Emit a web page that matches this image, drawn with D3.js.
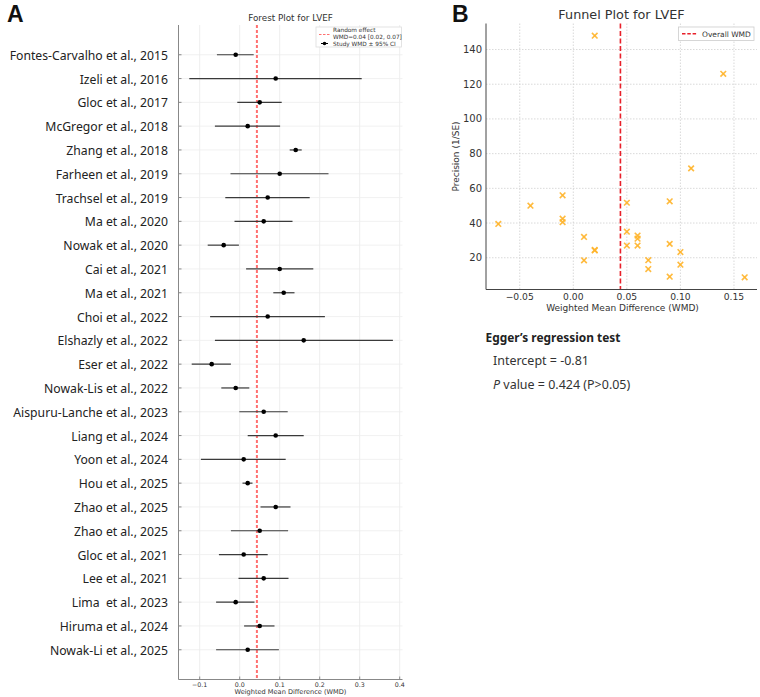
<!DOCTYPE html>
<html><head><meta charset="utf-8">
<script src="https://cdn.jsdelivr.net/npm/d3@7"></script>
<style>
body{margin:0;background:#fff;}
svg{display:block;}
</style></head>
<body>
<svg id="chart" width="760" height="697"></svg>
<script>
// ---------- DATA ----------
const studies = ["Fontes-Carvalho et al., 2015","Izeli et al., 2016","Gloc et al., 2017","McGregor et al., 2018","Zhang et al., 2018","Farheen et al., 2019","Trachsel et al., 2019","Ma et al., 2020","Nowak et al., 2020","Cai et al., 2021","Ma et al., 2021","Choi et al., 2022","Elshazly et al., 2022","Eser et al., 2022","Nowak-Lis et al., 2022","Aispuru-Lanche et al., 2023","Liang et al., 2024","Yoon et al., 2024","Hou et al., 2025","Zhao et al., 2025","Zhao et al., 2025","Gloc et al., 2021","Lee et al., 2021","Lima  et al., 2023","Hiruma et al., 2024","Nowak-Li et al., 2025"];
const wmd    = [-0.01, 0.09, 0.05, 0.02, 0.14, 0.10, 0.07, 0.06, -0.04, 0.10, 0.11, 0.07, 0.16, -0.07, -0.01, 0.06, 0.09, 0.01, 0.02, 0.09, 0.05, 0.01, 0.06, -0.01, 0.05, 0.02];
const ciLow  = [-0.057, -0.126, -0.006, -0.062, 0.125, -0.023, -0.036, -0.013, -0.080, 0.016, 0.084, -0.074, -0.062, -0.120, -0.046, -0.001, 0.020, -0.097, 0.007, 0.052, -0.022, -0.052, -0.003, -0.059, 0.011, -0.059];
const ciHigh = [0.035, 0.305, 0.105, 0.101, 0.155, 0.222, 0.175, 0.132, -0.002, 0.184, 0.137, 0.213, 0.383, -0.022, 0.024, 0.120, 0.160, 0.115, 0.032, 0.127, 0.121, 0.070, 0.122, 0.037, 0.087, 0.098];
const precision = [42.5, 9.1, 35, 24.5, 126, 16, 18.6, 27, 50, 23.3, 71.5, 13.5, 8.7, 39.5, 56, 32.8, 28, 18.5, 148, 52.5, 27, 32, 31, 40.5, 51.7, 24.2];
const pooledWMD = 0.043;
const pooledLabel = "WMD=0.04 [0.02, 0.07]";
const overallWMD = 0.044;
const forestTicks = [-0.1, 0.0, 0.1, 0.2, 0.3, 0.4];
const funnelXTicks = [-0.05, 0.00, 0.05, 0.10, 0.15];
const funnelYTicks = [20, 40, 60, 80, 100, 120, 140];
const eggerIntercept = "-0.81";
const eggerP = "0.424 (P>0.05)";

// ---------- SETUP ----------
const svg = d3.select("#chart");
const sans = "'Noto Sans','Open Sans',sans-serif";
const dv = "'DejaVu Sans',sans-serif";
function fitWidth(sel, target) {
  const w = sel.node().getComputedTextLength();
  const fs = parseFloat(sel.attr("font-size"));
  return fs * target / w;
}

// ---------- FOREST PLOT ----------
const fL = 178.5, fR = 402.5, fT = 25, fB = 679.5;
const fx = d3.scaleLinear().domain([-0.153, 0.407]).range([fL, fR]);
const fy = d3.scaleLinear().domain([-1.25, studies.length - 1 + 1.25]).range([fT, fB]);
const fg = svg.append("g");

fg.selectAll(".vg").data(forestTicks).join("line")
  .attr("x1", d => fx(d)).attr("x2", d => fx(d)).attr("y1", fT).attr("y2", fB)
  .attr("stroke", "#e8e8e8").attr("stroke-width", 0.8);
fg.selectAll(".hg").data(studies).join("line")
  .attr("x1", fL).attr("x2", fR).attr("y1", (d,i) => fy(i)).attr("y2", (d,i) => fy(i))
  .attr("stroke", "#eeeeee").attr("stroke-width", 0.8);

fg.append("line").attr("x1", fx(pooledWMD)).attr("x2", fx(pooledWMD)).attr("y1", fT).attr("y2", fB)
  .attr("stroke", "#ff7070").attr("stroke-width", 2).attr("stroke-dasharray", "3,2");

fg.selectAll(".eb").data(studies).join("line")
  .attr("x1", (d,i) => fx(ciLow[i])).attr("x2", (d,i) => fx(ciHigh[i]))
  .attr("y1", (d,i) => fy(i)).attr("y2", (d,i) => fy(i))
  .attr("stroke", "#3a3a3a").attr("stroke-width", 1.2);
fg.selectAll(".pt").data(studies).join("circle")
  .attr("cx", (d,i) => fx(wmd[i])).attr("cy", (d,i) => fy(i)).attr("r", 2.3)
  .attr("fill", "#000");

fg.append("line").attr("x1", fL).attr("x2", fL).attr("y1", fT).attr("y2", fB).attr("stroke", "#888").attr("stroke-width", 1);
fg.append("line").attr("x1", fL).attr("x2", fR).attr("y1", fB).attr("y2", fB).attr("stroke", "#888").attr("stroke-width", 1);
fg.selectAll(".yt").data(studies).join("line")
  .attr("x1", fL).attr("x2", fL + 3).attr("y1", (d,i) => fy(i)).attr("y2", (d,i) => fy(i))
  .attr("stroke", "#888");
fg.selectAll(".xt").data(forestTicks).join("line")
  .attr("x1", d => fx(d)).attr("x2", d => fx(d)).attr("y1", fB).attr("y2", fB - 3).attr("stroke", "#888");
fg.selectAll(".xtl").data(forestTicks).join("text")
  .attr("x", d => fx(d)).attr("y", fB + 7).attr("text-anchor", "middle")
  .attr("font-family", dv).attr("font-size", 6.3).attr("fill", "#333")
  .text(d => d === 0 ? "0.0" : (d < 0 ? "\u2212" + Math.abs(d).toFixed(1) : d.toFixed(1)));
fg.append("text").attr("x", (fL + fR) / 2).attr("y", fB + 14.5).attr("text-anchor", "middle")
  .attr("font-family", dv).attr("font-size", 6.6).attr("fill", "#333")
  .text("Weighted Mean Difference (WMD)");

// study labels (fit the longest label's width seen in the figure)
const labs = fg.selectAll(".lab").data(studies).join("text")
  .attr("x", 168).attr("y", (d,i) => fy(i) + 5).attr("text-anchor", "end")
  .attr("font-family", sans).attr("font-size", 14).attr("fill", "#222")
  .style("white-space", "pre")
  .text(d => d);
const labFs = fitWidth(labs.filter((d,i) => i === 0), 158.5);
labs.attr("font-size", labFs);

fg.append("text").attr("x", (fL + fR) / 2).attr("y", 20.5).attr("text-anchor", "middle")
  .attr("font-family", dv).attr("font-size", 8.8).attr("fill", "#333").text("Forest Plot for LVEF");

const lg = fg.append("g");
lg.append("rect").attr("x", 316).attr("y", 27).attr("width", 85.5).attr("height", 20)
  .attr("fill", "#fff").attr("stroke", "#ddd").attr("stroke-width", 0.8);
lg.append("line").attr("x1", 319).attr("x2", 330).attr("y1", 34.5).attr("y2", 34.5)
  .attr("stroke", "#ff7070").attr("stroke-width", 1.2).attr("stroke-dasharray", "2.5,1.5");
lg.append("text").attr("x", 333).attr("y", 32).attr("font-family", dv).attr("font-size", 5.8).attr("fill", "#333").text("Random effect");
lg.append("text").attr("x", 333).attr("y", 38.5).attr("font-family", dv).attr("font-size", 5.8).attr("fill", "#333").text(pooledLabel);
lg.append("circle").attr("cx", 324.5).attr("cy", 43.5).attr("r", 1.8).attr("fill", "#000");
lg.append("line").attr("x1", 321).attr("x2", 328).attr("y1", 43.5).attr("y2", 43.5).attr("stroke", "#000").attr("stroke-width", 1);
lg.append("text").attr("x", 333).attr("y", 45.5).attr("font-family", dv).attr("font-size", 5.8).attr("fill", "#333").text("Study WMD \u00b1 95% CI");

svg.append("text").attr("x", 7).attr("y", 22).attr("font-family", "'Liberation Sans',Arial,sans-serif")
  .attr("font-weight", "bold").attr("font-size", 23).attr("fill", "#111").text("A");

// ---------- FUNNEL PLOT ----------
const pL = 486, pR = 757, pT = 23.5, pB = 289.5;
const px = d3.scaleLinear().domain([-0.0815, 0.1715]).range([pL, pR]);
const py = d3.scaleLinear().domain([1.7, 155]).range([pB, pT]);
const pg = svg.append("g");

pg.selectAll(".pvg").data(funnelXTicks).join("line")
  .attr("x1", d => px(d)).attr("x2", d => px(d)).attr("y1", pT).attr("y2", pB)
  .attr("stroke", "#cfcfcf").attr("stroke-width", 0.8).attr("stroke-dasharray", "1.5,1.5");
pg.selectAll(".phg").data(funnelYTicks).join("line")
  .attr("x1", pL).attr("x2", pR).attr("y1", d => py(d)).attr("y2", d => py(d))
  .attr("stroke", "#cfcfcf").attr("stroke-width", 0.8).attr("stroke-dasharray", "1.5,1.5");

pg.append("line").attr("x1", px(overallWMD)).attr("x2", px(overallWMD)).attr("y1", pT).attr("y2", pB)
  .attr("stroke", "#e8202a").attr("stroke-width", 1.6).attr("stroke-dasharray", "5,2.5");

const ms = 2.8;
const mk = pg.selectAll(".mk").data(wmd).join("g")
  .attr("transform", (d,i) => `translate(${px(d)},${py(precision[i])})`);
mk.append("line").attr("x1", -ms).attr("y1", -ms).attr("x2", ms).attr("y2", ms);
mk.append("line").attr("x1", -ms).attr("y1", ms).attr("x2", ms).attr("y2", -ms);
mk.selectAll("line").attr("stroke", "#ffb42a").attr("stroke-width", 1.6).attr("stroke-opacity", 0.9);

pg.append("line").attr("x1", pL).attr("x2", pL).attr("y1", pT).attr("y2", pB).attr("stroke", "#444").attr("stroke-width", 1);
pg.append("line").attr("x1", pL).attr("x2", pR).attr("y1", pB).attr("y2", pB).attr("stroke", "#444").attr("stroke-width", 1);

pg.selectAll(".pxt").data(funnelXTicks).join("text")
  .attr("x", d => px(d)).attr("y", pB + 10.5).attr("text-anchor", "middle")
  .attr("font-family", dv).attr("font-size", 9.2).attr("fill", "#333")
  .text(d => (d < 0 ? "\u2212" : "") + Math.abs(d).toFixed(2));
pg.selectAll(".pyt").data(funnelYTicks).join("text")
  .attr("x", pL - 4).attr("y", d => py(d) + 3.5).attr("text-anchor", "end")
  .attr("font-family", dv).attr("font-size", 10).attr("fill", "#333").text(d => d);
pg.append("text").attr("x", (pL + pR) / 2 + 1).attr("y", pB + 21).attr("text-anchor", "middle")
  .attr("font-family", dv).attr("font-size", 9).attr("fill", "#333").text("Weighted Mean Difference (WMD)");
pg.append("text").attr("transform", `translate(459,${(pT + pB) / 2}) rotate(-90)`).attr("text-anchor", "middle")
  .attr("font-family", dv).attr("font-size", 9).attr("fill", "#333").text("Precision (1/SE)");
pg.append("text").attr("x", (pL + pR) / 2).attr("y", 18.5).attr("text-anchor", "middle")
  .attr("font-family", dv).attr("font-size", 12.8).attr("fill", "#333").text("Funnel Plot for LVEF");

pg.append("rect").attr("x", 678.5).attr("y", 27).attr("width", 75.5).attr("height", 13.5)
  .attr("fill", "#fff").attr("stroke", "#ccc").attr("stroke-width", 0.8);
pg.append("line").attr("x1", 682).attr("x2", 697).attr("y1", 33.8).attr("y2", 33.8)
  .attr("stroke", "#e8202a").attr("stroke-width", 1.4).attr("stroke-dasharray", "3.5,1.8");
pg.append("text").attr("x", 702).attr("y", 36.7).attr("font-family", dv).attr("font-size", 7.5).attr("fill", "#333").text("Overall WMD");

svg.append("text").attr("x", 452).attr("y", 22).attr("font-family", "'Liberation Sans',Arial,sans-serif")
  .attr("font-weight", "bold").attr("font-size", 23).attr("fill", "#111").text("B");

// Egger text
const eg = svg.append("text").attr("x", 485.5).attr("y", 341.5).attr("font-family", sans).attr("font-weight", "bold")
  .attr("font-size", 14).attr("fill", "#222").text("Egger\u2019s regression test");
eg.attr("font-size", fitWidth(eg, 135));
const ic = svg.append("text").attr("x", 493).attr("y", 365).attr("font-family", sans)
  .attr("font-size", 13.5).attr("fill", "#333").text("Intercept = " + eggerIntercept);
const icFs = fitWidth(ic, 96);
ic.attr("font-size", icFs);
const pt = svg.append("text").attr("x", 493).attr("y", 388.5).attr("font-family", sans)
  .attr("font-size", icFs).attr("fill", "#333");
pt.append("tspan").attr("font-style", "italic").text("P");
pt.append("tspan").text(" value = " + eggerP);
</script>
</body></html>
